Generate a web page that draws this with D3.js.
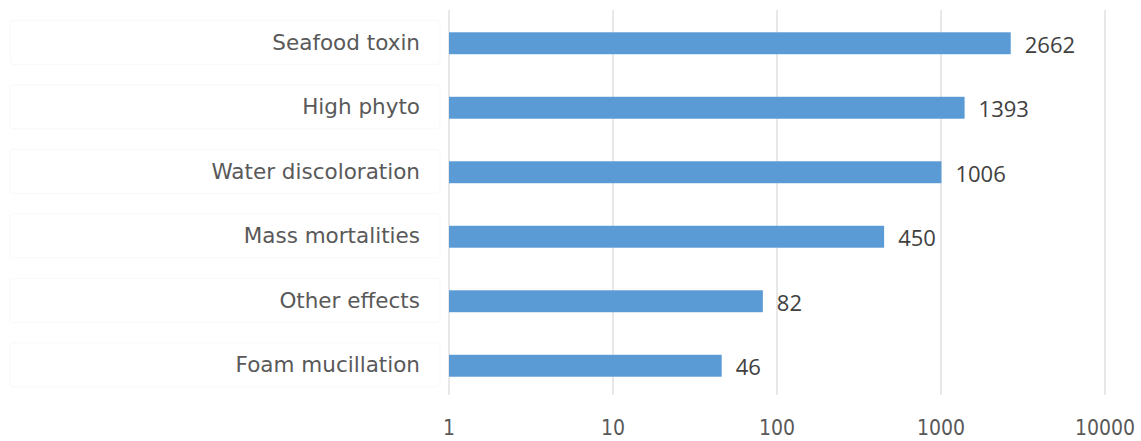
<!DOCTYPE html>
<html>
<head>
<meta charset="utf-8">
<script src="https://cdn.jsdelivr.net/npm/d3@7"></script>
<style>
  body { margin: 0; background: #fff; }
  svg { display: block; }
</style>
</head>
<body>
<svg id="chart"></svg>
<script>
const categories = ["Seafood toxin", "High phyto", "Water discoloration", "Mass mortalities", "Other effects", "Foam mucillation"];
const values = [2662, 1393, 1006, 450, 82, 46];
const tickValues = [1, 10, 100, 1000, 10000];

const width = 1141;
const height = 441;
const margin = { top: 11, right: 36, bottom: 43, left: 449 };

const svg = d3.select("#chart")
  .attr("width", width)
  .attr("height", height);

const x = d3.scaleLog()
  .domain([1, 10000])
  .range([margin.left, width - margin.right]);

const y = d3.scaleBand()
  .domain(categories)
  .range([margin.top, height - margin.bottom])
  .paddingInner(0.66)
  .paddingOuter(0.33);

// gridlines
svg.append("g")
  .selectAll("line")
  .data(tickValues)
  .join("line")
  .attr("x1", d => x(d))
  .attr("x2", d => x(d))
  .attr("y1", 10)
  .attr("y2", 395)
  .attr("stroke", "#d9d9d9")
  .attr("stroke-width", 1.2);

// faint label boxes
svg.append("g")
  .selectAll("rect")
  .data(categories)
  .join("rect")
  .attr("x", 10)
  .attr("y", d => y(d) + y.bandwidth() / 2 - 23)
  .attr("width", 430)
  .attr("height", 44)
  .attr("rx", 3)
  .attr("fill", "none")
  .attr("stroke", "#f8f8f8");

// x tick labels
svg.append("g")
  .selectAll("text")
  .data(tickValues)
  .join("text")
  .attr("x", d => x(d))
  .attr("y", 435)
  .attr("text-anchor", "middle")
  .attr("font-family", "DejaVu Sans Condensed, DejaVu Sans")
  .attr("font-stretch", "condensed")
  .attr("font-size", 21)
  .attr("fill", "#595959")
  .text(d => d);

// category labels
svg.append("g")
  .selectAll("text")
  .data(categories)
  .join("text")
  .attr("x", 420)
  .attr("y", d => y(d) + y.bandwidth() / 2 - 1)
  .attr("dy", "0.35em")
  .attr("text-anchor", "end")
  .attr("font-family", "DejaVu Sans")
  .attr("font-size", 21.5)
  .attr("fill", "#595959")
  .text(d => d);

// bars
svg.append("g")
  .selectAll("rect")
  .data(values)
  .join("rect")
  .attr("x", x(1))
  .attr("y", (d, i) => y(categories[i]))
  .attr("width", d => x(d) - x(1))
  .attr("height", y.bandwidth())
  .attr("fill", "#5b9bd5");

// value labels
svg.append("g")
  .selectAll("text")
  .data(values)
  .join("text")
  .attr("x", d => x(d) + 14)
  .attr("y", (d, i) => y(categories[i]) + y.bandwidth() / 2 + 2)
  .attr("dy", "0.35em")
  .attr("font-family", "Open Sans")
  .attr("font-size", 22)
  .attr("fill", "#404040")
  .text(d => d);
</script>
</body>
</html>
